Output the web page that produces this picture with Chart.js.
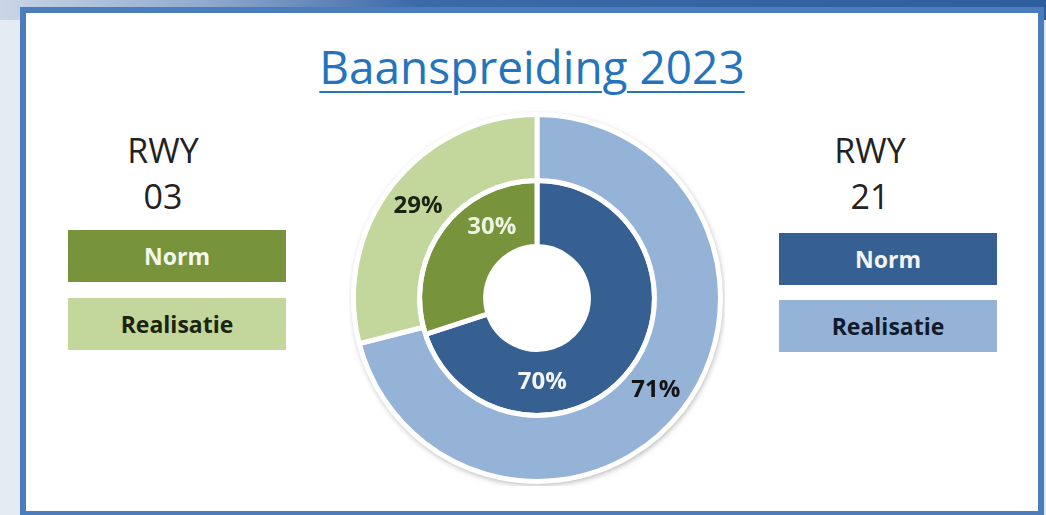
<!DOCTYPE html>
<html>
<head>
<meta charset="utf-8">
<script src="https://cdn.jsdelivr.net/npm/chart.js@4/dist/chart.umd.min.js"></script>
<style>
  html, body { margin: 0; padding: 0; }
  body {
    width: 1046px; height: 515px; overflow: hidden; position: relative;
    background: linear-gradient(to right, #e4ebf3 0%, #dfe7f1 100%);
    font-family: "Open Sans", "Noto Sans", sans-serif;
  }
  .topband {
    position: absolute; left: 0; top: 0; width: 1046px; height: 20px;
    background: linear-gradient(to right, #c9d6e6 0%, #8fa9cc 20%, #3c69a8 40%, #2f5e9f 100%);
  }
  .panel {
    position: absolute; left: 20px; top: 7px; width: 1024px; height: 510px;
    background: #ffffff; border: 6px solid #4b7cbd; box-sizing: border-box;
  }
  .title {
    position: absolute; left: 0; width: 1064px; top: 35px; text-align: center;
    font-size: 46px; color: #2474bd; text-decoration: underline;
    text-decoration-thickness: 2px; text-underline-offset: 7px;
  }
  .rwy { position: absolute; width: 140px; text-align: center; font-size: 34px; color: #222; line-height: 46px; }
  .box {
    position: absolute; width: 218px; height: 52px; line-height: 52px; text-align: center;
    font-weight: bold; font-size: 23px;
  }
  #wrap { position: absolute; left: 349px; top: 110px; width: 376px; height: 376px; }
</style>
</head>
<body>
<div class="topband"></div>
<div class="panel"></div>
<div class="title">Baanspreiding 2023</div>

<div class="rwy" style="left:93px; top:127px;">RWY<br>03</div>
<div class="box" style="left:68px; top:230px; background:#77933c; color:#f4f8ec;">Norm</div>
<div class="box" style="left:68px; top:298px; background:#c3d69b; color:#1b2410;">Realisatie</div>

<div class="rwy" style="left:800px; top:127px;">RWY<br>21</div>
<div class="box" style="left:779px; top:233px; background:#366092; color:#f2f6fb;">Norm</div>
<div class="box" style="left:779px; top:300px; background:#95b3d7; color:#111a2a;">Realisatie</div>

<div id="wrap"><canvas id="chartCanvas"></canvas></div>

<script>
const categories = ['RWY 21', 'RWY 03'];
const realisatie = [71, 29];
const norm = [70, 30];

const outerColors = ['#95b3d7', '#c3d69b'];
const innerColors = ['#366092', '#77933c'];

// soft drop shadow behind the whole donut
const shadowPlugin = {
    id: 'ringShadow',
    beforeDatasetsDraw(chart) {
        const arc = chart.getDatasetMeta(0).data[0];
        if (!arc) return;
        const c = chart.ctx;
        c.save();
        c.beginPath();
        c.arc(arc.x, arc.y, arc.outerRadius + 1, 0, Math.PI * 2);
        c.fillStyle = '#ffffff';
        c.shadowColor = 'rgba(0,0,0,0.35)';
        c.shadowBlur = 6;
        c.shadowOffsetX = 1;
        c.shadowOffsetY = 2;
        c.fill();
        c.restore();
    }
};

// percentage labels on the arcs
const labelPlugin = {
    id: 'arcLabels',
    afterDatasetsDraw(chart) {
        const c = chart.ctx;
        chart.data.datasets.forEach((ds, i) => {
            const meta = chart.getDatasetMeta(i);
            meta.data.forEach((arc, j) => {
                const a = arc.startAngle + (arc.endAngle - arc.startAngle) * ds.labelPos;
                const r = (arc.innerRadius + arc.outerRadius) / 2;
                c.save();
                c.font = 'bold 24px "Open Sans", sans-serif';
                c.fillStyle = ds.labelColors[j];
                c.textAlign = 'center';
                c.textBaseline = 'middle';
                c.fillText(ds.data[j] + '%', arc.x + Math.cos(a) * r, arc.y + Math.sin(a) * r);
                c.restore();
            });
        });
    }
};

const ctx = document.getElementById('chartCanvas').getContext('2d');

const chart = new Chart(ctx, {
    type: 'doughnut',
    data: {
        labels: categories,
        datasets: [{
            label: 'Realisatie',
            data: realisatie,
            backgroundColor: outerColors,
            borderColor: '#ffffff',
            borderWidth: 5,
            labelPos: 0.5,
            labelColors: ['#141414', '#1a2410']
        }, {
            label: 'Norm',
            data: norm,
            backgroundColor: innerColors,
            borderColor: '#ffffff',
            borderWidth: 5,
            labelPos: 0.7,
            labelColors: ['#f2f6fb', '#eef4e2']
        }]
    },
    options: {
        responsive: true,
        maintainAspectRatio: false,
        animation: false,
        cutout: '28%',
        layout: { padding: 2 },
        plugins: {
            legend: { display: false },
            tooltip: { enabled: false }
        }
    },
    plugins: [shadowPlugin, labelPlugin]
});
</script>
</body>
</html>
